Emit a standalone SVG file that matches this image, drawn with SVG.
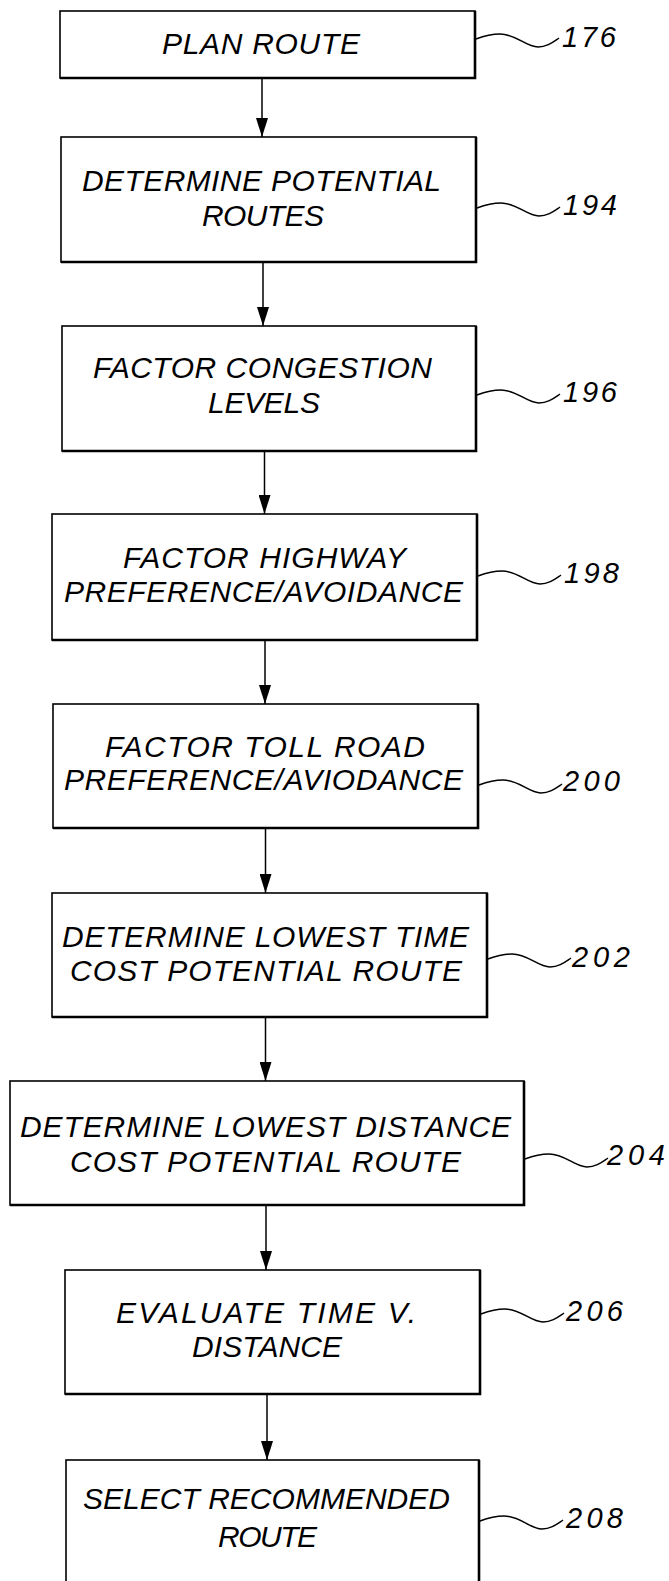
<svg xmlns="http://www.w3.org/2000/svg" width="669" height="1581" viewBox="0 0 669 1581">
<style>
.box{fill:#fff;stroke:#000;stroke-width:1.6}
.edge{fill:none;stroke:#000;stroke-width:2.6}
.t{font-family:"Liberation Sans",Arial,sans-serif;font-style:italic;font-size:30px;fill:#000}
.lbl{font-family:"Liberation Sans",Arial,sans-serif;font-style:italic;font-size:29px;fill:#000}
.wave{fill:none;stroke:#000;stroke-width:1.5}
.arr{stroke:#000;stroke-width:1.5}
</style>
<defs>
<marker id="ah" markerWidth="19" markerHeight="12" refX="19" refY="6" orient="auto" markerUnits="userSpaceOnUse" viewBox="0 0 19 12">
<path d="M0,0 L19,6 L0,12 Z" fill="#000"/>
</marker>
<path id="wv" d="M0,0 C8,-3 16,-5 24,-5 C40,-5 50,8 62,8 C71,8 77,3 83,-1"/>
</defs>
<rect width="669" height="1581" fill="#fff"/>
<g id="connectors">
<line class="arr" x1="262" y1="78" x2="262" y2="137" marker-end="url(#ah)"/>
<line class="arr" x1="263" y1="263" x2="263" y2="326" marker-end="url(#ah)"/>
<line class="arr" x1="264.5" y1="451" x2="264.5" y2="514" marker-end="url(#ah)"/>
<line class="arr" x1="265" y1="640" x2="265" y2="704" marker-end="url(#ah)"/>
<line class="arr" x1="265.5" y1="829" x2="265.5" y2="893" marker-end="url(#ah)"/>
<line class="arr" x1="265.5" y1="1018" x2="265.5" y2="1081" marker-end="url(#ah)"/>
<line class="arr" x1="266" y1="1206" x2="266" y2="1270" marker-end="url(#ah)"/>
<line class="arr" x1="267" y1="1395" x2="267" y2="1460" marker-end="url(#ah)"/>
</g>
<g id="n176">
<rect class="box" x="60" y="11" width="415" height="67"/>
<polyline class="edge" points="475,11 475,78 60,78"/>
<text class="t" x="162" y="54" textLength="198" lengthAdjust="spacing">PLAN ROUTE</text>
<use href="#wv" class="wave" x="476" y="39"/>
<text class="lbl" x="562" y="47" textLength="54" lengthAdjust="spacing">176</text>
</g>
<g id="n194">
<rect class="box" x="61" y="137" width="415" height="125"/>
<polyline class="edge" points="476,137 476,262 61,262"/>
<text class="t" x="82" y="191" textLength="359" lengthAdjust="spacing">DETERMINE POTENTIAL</text>
<text class="t" x="202" y="226" textLength="122" lengthAdjust="spacing">ROUTES</text>
<use href="#wv" class="wave" x="477" y="208"/>
<text class="lbl" x="563" y="215" textLength="54" lengthAdjust="spacing">194</text>
</g>
<g id="n196">
<rect class="box" x="62" y="326" width="414" height="125"/>
<polyline class="edge" points="476,326 476,451 62,451"/>
<text class="t" x="93" y="378" textLength="339" lengthAdjust="spacing">FACTOR CONGESTION</text>
<text class="t" x="208" y="413" textLength="112" lengthAdjust="spacing">LEVELS</text>
<use href="#wv" class="wave" x="477" y="395"/>
<text class="lbl" x="563" y="402" textLength="54" lengthAdjust="spacing">196</text>
</g>
<g id="n198">
<rect class="box" x="52" y="514" width="425" height="126"/>
<polyline class="edge" points="477,514 477,640 52,640"/>
<text class="t" x="123" y="568" textLength="283" lengthAdjust="spacing">FACTOR HIGHWAY</text>
<text class="t" x="64" y="602" textLength="399" lengthAdjust="spacing">PREFERENCE/AVOIDANCE</text>
<use href="#wv" class="wave" x="478" y="576"/>
<text class="lbl" x="564" y="583" textLength="55" lengthAdjust="spacing">198</text>
</g>
<g id="n200">
<rect class="box" x="53" y="704" width="425" height="124"/>
<polyline class="edge" points="478,704 478,828 53,828"/>
<text class="t" x="105" y="757" textLength="320" lengthAdjust="spacing">FACTOR TOLL ROAD</text>
<text class="t" x="64" y="790" textLength="399" lengthAdjust="spacing">PREFERENCE/AVIODANCE</text>
<use href="#wv" class="wave" x="479" y="785"/>
<text class="lbl" x="563" y="791" textLength="57" lengthAdjust="spacing">200</text>
</g>
<g id="n202">
<rect class="box" x="52" y="893" width="435" height="124"/>
<polyline class="edge" points="487,893 487,1017 52,1017"/>
<text class="t" x="62" y="947" textLength="407" lengthAdjust="spacing">DETERMINE LOWEST TIME</text>
<text class="t" x="70" y="981" textLength="392" lengthAdjust="spacing">COST POTENTIAL ROUTE</text>
<use href="#wv" class="wave" x="488" y="959"/>
<text class="lbl" x="572" y="967" textLength="58" lengthAdjust="spacing">202</text>
</g>
<g id="n204">
<rect class="box" x="10" y="1081" width="514" height="124"/>
<polyline class="edge" points="524,1081 524,1205 10,1205"/>
<text class="t" x="20" y="1137" textLength="491" lengthAdjust="spacing">DETERMINE LOWEST DISTANCE</text>
<text class="t" x="70" y="1172" textLength="391" lengthAdjust="spacing">COST POTENTIAL ROUTE</text>
<use href="#wv" class="wave" x="525" y="1159"/>
<text class="lbl" x="607" y="1165" textLength="58" lengthAdjust="spacing">204</text>
</g>
<g id="n206">
<rect class="box" x="65" y="1270" width="415" height="124"/>
<polyline class="edge" points="480,1270 480,1394 65,1394"/>
<text class="t" x="116" y="1323" textLength="300" lengthAdjust="spacing">EVALUATE TIME V.</text>
<text class="t" x="192" y="1357" textLength="150" lengthAdjust="spacing">DISTANCE</text>
<use href="#wv" class="wave" x="481" y="1314"/>
<text class="lbl" x="566" y="1321" textLength="57" lengthAdjust="spacing">206</text>
</g>
<g id="n208">
<rect class="box" x="66" y="1460" width="413" height="140"/>
<polyline class="edge" points="479,1460 479,1600"/>
<text class="t" x="83" y="1509" textLength="367" lengthAdjust="spacing">SELECT RECOMMENDED</text>
<text class="t" x="218" y="1547" textLength="99" lengthAdjust="spacing">ROUTE</text>
<use href="#wv" class="wave" x="480" y="1521"/>
<text class="lbl" x="566" y="1528" textLength="57" lengthAdjust="spacing">208</text>
</g>
</svg>
